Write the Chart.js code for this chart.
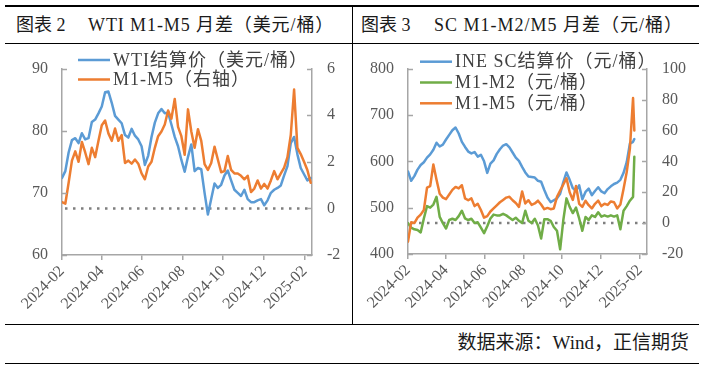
<!DOCTYPE html>
<html>
<head>
<meta charset="utf-8">
<script src="https://cdn.jsdelivr.net/npm/chart.js@4.4.1/dist/chart.umd.min.js"></script>
<style>
  body { margin: 0; width: 704px; height: 369px; background: #fff; position: relative; overflow: hidden;
         font-family: "Liberation Serif", "Noto Sans CJK SC", serif; color: #1a1a1a; }
  .hl { position: absolute; left: 5px; width: 694px; height: 1px; background: #000; }
  .vl { position: absolute; left: 352px; top: 5px; width: 1px; height: 319px; background: #000; }
  .t { position: absolute; font-size: 18px; line-height: 18px; white-space: nowrap; }
  canvas { position: absolute; top: 44px; }
</style>
</head>
<body>
<div class="hl" style="top:5px;height:2px"></div>
<div class="hl" style="top:43px"></div>
<div class="hl" style="top:324px"></div>
<div class="hl" style="top:363px"></div>
<div class="vl"></div>

<div class="t" style="left:16px;top:16px">图表 2</div>
<div class="t" style="left:88px;top:16px;letter-spacing:0.9px">WTI M1-M5 月差（美元/桶）</div>
<div class="t" style="left:361px;top:16px">图表 3</div>
<div class="t" style="left:434px;top:16px;letter-spacing:1px">SC M1-M2/M5 月差（元/桶）</div>
<div class="t" style="right:15px;top:334px;font-size:19px">数据来源：Wind，正信期货</div>

<canvas id="wti" width="352" height="279" style="left:0"></canvas>
<canvas id="sc" width="351" height="279" style="left:353px"></canvas>

<script>
// x axis tick labels (every two months)
const tickMonths = ['2024-02', '2024-04', '2024-06', '2024-08', '2024-10', '2024-12', '2025-02'];

// WTI chart
const wtiDates = ['2024-02-01','2024-02-06','2024-02-11','2024-02-16','2024-02-21','2024-02-26',
  '2024-03-02','2024-03-07','2024-03-12','2024-03-17','2024-03-22','2024-03-27',
  '2024-04-01','2024-04-06','2024-04-11','2024-04-16','2024-04-21','2024-04-26',
  '2024-05-01','2024-05-06','2024-05-11','2024-05-16','2024-05-21','2024-05-26','2024-05-31',
  '2024-06-05','2024-06-10','2024-06-15','2024-06-20','2024-06-25','2024-06-30',
  '2024-07-05','2024-07-10','2024-07-15','2024-07-20','2024-07-25','2024-07-30',
  '2024-08-04','2024-08-09','2024-08-14','2024-08-19','2024-08-24','2024-08-29',
  '2024-09-03','2024-09-08','2024-09-13','2024-09-18','2024-09-23','2024-09-28',
  '2024-10-03','2024-10-08','2024-10-13','2024-10-18','2024-10-23','2024-10-28',
  '2024-11-02','2024-11-07','2024-11-12','2024-11-17','2024-11-22','2024-11-27',
  '2024-12-02','2024-12-07','2024-12-12','2024-12-17','2024-12-22','2024-12-27',
  '2025-01-01','2025-01-06','2025-01-11','2025-01-16','2025-01-21','2025-01-26','2025-01-31',
  '2025-02-05','2025-02-10'];
const wtiPrice = [72.4, 73.5, 76.5, 78.5, 78.8, 78.0, 79.6, 78.6, 78.8, 81.4,
  81.8, 82.8, 83.9, 86.2, 86.3, 84.5, 82.4, 81.8, 81.2, 79.3,
  78.9, 80.3, 79.2, 78.6, 77.5, 74.5, 76.0, 79.0, 81.3, 82.8,
  83.5, 82.8, 82.9, 81.0, 79.0, 77.5, 75.3, 73.4, 75.8, 77.8,
  73.5, 74.0, 73.8, 70.0, 66.5, 69.0, 71.5, 70.8, 71.3, 72.8,
  73.6, 72.0, 70.5, 70.0, 69.5, 70.5, 69.0, 68.5, 68.5, 68.8,
  69.0, 68.0, 68.8, 70.0, 70.5, 70.8, 71.2, 72.8, 74.3, 78.0,
  79.0, 76.2, 74.0, 73.0, 72.0, 72.4];
const wtiM1M5 = [0.27, 0.2, 1.1, 2.05, 2.45, 2.0, 2.85, 2.4, 1.9, 2.6,
  2.2, 2.9, 3.57, 3.77, 3.22, 2.9, 3.43, 2.9, 3.15, 1.95,
  2.05, 1.92, 2.1, 1.92, 1.5, 1.25, 1.8, 2.0, 2.6, 3.1,
  3.3, 3.6, 4.2, 3.85, 4.7, 3.5, 3.1, 2.3, 4.25, 3.3,
  2.6, 3.4, 2.9, 1.9, 1.65, 1.95, 2.65, 2.1, 1.55, 1.6,
  2.25, 1.65, 1.5, 1.5, 1.4, 1.25, 1.4, 0.7, 0.85, 1.2,
  0.85, 1.05, 0.85, 1.2, 1.6, 1.25, 1.5, 1.75, 2.2, 3.15,
  5.1, 2.6, 2.33, 2.0, 1.65, 1.1];

// SC chart
const scDates = ['2024-02-01','2024-02-06','2024-02-11','2024-02-16','2024-02-21','2024-02-26',
  '2024-03-02','2024-03-07','2024-03-12','2024-03-17','2024-03-22','2024-03-27',
  '2024-04-01','2024-04-06','2024-04-11','2024-04-16','2024-04-21','2024-04-26',
  '2024-05-01','2024-05-06','2024-05-11','2024-05-16','2024-05-21','2024-05-26','2024-05-31',
  '2024-06-05','2024-06-10','2024-06-15','2024-06-20','2024-06-25','2024-06-30',
  '2024-07-05','2024-07-10','2024-07-15','2024-07-20','2024-07-25','2024-07-30',
  '2024-08-04','2024-08-09','2024-08-14','2024-08-19','2024-08-24','2024-08-29',
  '2024-09-03','2024-09-08','2024-09-13','2024-09-18','2024-09-23','2024-09-28',
  '2024-10-03','2024-10-08','2024-10-13','2024-10-18','2024-10-23','2024-10-28',
  '2024-11-02','2024-11-07','2024-11-12','2024-11-17','2024-11-22','2024-11-27',
  '2024-12-02','2024-12-07','2024-12-12','2024-12-17','2024-12-22','2024-12-27',
  '2025-01-01','2025-01-06','2025-01-11','2025-01-16','2025-01-21','2025-01-23'];
const scPrice = [578, 558, 568, 582, 592, 598, 608, 615, 625, 640,
  632, 636, 647, 657, 667, 673, 660, 642, 631, 621,
  617, 620, 610, 614, 600, 575, 595, 602, 616, 626,
  634, 637, 630, 619, 608, 601, 588, 576, 567, 566,
  565, 558, 556, 538, 522, 512, 516, 520, 530, 555,
  576, 560, 542, 536, 548, 518, 534, 541, 527, 536,
  544, 535, 531, 540, 546, 551, 554, 560, 575, 598,
  638, 642, 648];
const scM1M2 = [0, -3, -4, -4.5, -6, 3, 11, 10, 12, 17,
  4, 0, -3.5, 2, 2.8, 2, 4.5, 8, 3, 2,
  2.8, 0, 0.5, -3, -6.5, -2, 3, 5.5, 5, 5,
  6, 5, 3.5, 2, 3.5, 1.5, 0, 8, 1.5, 0,
  2.8, -1.5, -10, 2.5, 2.5, 1.5, -2.5, -5, -17, 2,
  16, 10.5, 6.5, 10, 3, -5, 4, 2, 5, 4,
  7, 4.2, 5, 4.2, 5, 4.2, 5, -4, 8, 11,
  14.5, 17, 43];
const scM1M5 = [-12, 0.5, 0, 3.5, 5.5, 8.5, 23, 24, 38, 28,
  19, 16.5, 15.5, 18.5, 21.5, 23.4, 22.4, 24.5, 16, 14.8,
  16, 11, 12.5, 8.5, 3.5, 4.5, 7.5, 9.5, 11.5, 13.5,
  15, 16.5, 17, 14.8, 13, 10.5, 20.5, 12.7, 14.8, 11.8,
  12.7, 14.5, 12, 9, 9.8, 9, 9.5, 17, 21, 25,
  29, 20, 15, 24, 12.5, 10.5, 14.5, 11.6, 9.5, 12.5,
  14.5, 11, 12.5, 11.8, 14, 13.5, 9.5, 12, 22, 33,
  48, 81, 60];

const AXIS = '#a6a6a6';
const TXT = '#595959';
const tickFont = { family: '"Liberation Serif", serif', size: 16 };

function dayOf(s) {
  const p = s.split('-').map(Number);
  return (Date.UTC(p[0], p[1] - 1, p[2] || 1) - Date.UTC(2024, 1, 1)) / 864e5;
}
const pts = (dates, vals) => dates.map((d, i) => ({ x: dayOf(d), y: vals[i] }));

// short tick marks pointing into the plot, like Excel
const innerTicks = {
  id: 'innerTicks',
  afterDraw(chart) {
    const ctx = chart.ctx, a = chart.chartArea;
    ctx.save();
    ctx.strokeStyle = AXIS;
    ctx.lineWidth = 1.5;
    ['y', 'y1'].forEach(id => {
      const s = chart.scales[id];
      const x0 = id === 'y' ? a.left : a.right;
      const dir = id === 'y' ? 1 : -1;
      s.ticks.forEach(t => {
        const py = Math.round(s.getPixelForValue(t.value)) + 0.5;
        ctx.beginPath();
        ctx.moveTo(x0, py);
        ctx.lineTo(x0 + dir * 5, py);
        ctx.stroke();
      });
    });
    ctx.restore();
  }
};

// dotted zero line of the right axis
const zeroLine = {
  id: 'zeroLine',
  beforeDatasetsDraw(chart) {
    const a = chart.chartArea, ctx = chart.ctx;
    const py = chart.scales.y1.getPixelForValue(0);
    ctx.save();
    ctx.strokeStyle = '#7f7f7f';
    ctx.lineWidth = 2.5;
    ctx.setLineDash([2.5, 5.5]);
    ctx.beginPath();
    ctx.moveTo(a.left + 3, py);
    ctx.lineTo(a.right, py);
    ctx.stroke();
    ctx.restore();
  }
};

const boxLegend = {
  id: 'boxLegend',
  afterDraw(chart, args, o) {
    const ctx = chart.ctx;
    ctx.save();
    ctx.font = '18px "Liberation Serif", "Noto Sans CJK SC"';
    ctx.letterSpacing = '1px';
    ctx.textBaseline = 'middle';
    o.order.forEach((di, row) => {
      const ds = chart.data.datasets[di];
      const y = o.y + row * o.rowH;
      ctx.strokeStyle = ds.borderColor;
      ctx.lineWidth = 2.5;
      ctx.beginPath();
      ctx.moveTo(o.x, y);
      ctx.lineTo(o.x + 32, y);
      ctx.stroke();
      ctx.fillStyle = '#404040';
      ctx.fillText(ds.label, o.x + 35, y + 1);
    });
    ctx.restore();
  }
};

function xScale(h) {
  return {
    type: 'linear',
    min: dayOf('2024-02-01'),
    max: dayOf('2025-02-12'),
    afterBuildTicks: s => { s.ticks = tickMonths.map(m => ({ value: dayOf(m) })); },
    afterFit: s => { s.height = h; },
    grid: { drawOnChartArea: false, drawTicks: true, tickLength: 5, color: AXIS, lineWidth: 1.5 },
    border: { color: AXIS, width: 1.5 },
    ticks: {
      autoSkip: false, minRotation: 45, maxRotation: 45, padding: 2,
      color: TXT, font: tickFont,
      callback: (v, i) => tickMonths[i]
    }
  };
}

function yScale(pos, min, max, step, w, pad) {
  return {
    type: 'linear',
    position: pos,
    min: min,
    max: max,
    afterFit: s => { s.width = w; },
    grid: { drawOnChartArea: false, drawTicks: false },
    border: { color: AXIS, width: 1.5 },
    ticks: { stepSize: step, padding: pad, color: TXT, font: tickFont }
  };
}

function line(label, data, color, axis, order) {
  return {
    label: label, data: data, yAxisID: axis, order: order,
    borderColor: color, borderWidth: 2.5, pointRadius: 0, fill: false,
    borderJoinStyle: 'round', borderCapStyle: 'round'
  };
}

new Chart(document.getElementById('wti'), {
  type: 'line',
  data: {
    datasets: [
      line('WTI结算价（美元/桶）', pts(wtiDates, wtiPrice), '#5b9bd5', 'y', 2),
      line('M1-M5（右轴）', pts(wtiDates, wtiM1M5), '#ed7d31', 'y1', 1)
    ]
  },
  options: {
    responsive: false,
    animation: false,
    events: [],
    layout: { padding: { top: 17, left: 0, right: 0, bottom: 0 } },
    scales: {
      x: xScale(68),
      y: yScale('left', 60, 90, 10, 62, 14),
      y1: yScale('right', -2, 6, 2, 40, 15)
    },
    plugins: {
      legend: { display: false },
      tooltip: { enabled: false },
      boxLegend: { x: 78, y: 16, rowH: 19.5, order: [0, 1] }
    }
  },
  plugins: [zeroLine, innerTicks, boxLegend]
});

new Chart(document.getElementById('sc'), {
  type: 'line',
  data: {
    datasets: [
      line('INE SC结算价（元/桶）', pts(scDates, scPrice), '#5b9bd5', 'y', 3),
      line('M1-M2（元/桶）', pts(scDates, scM1M2), '#70ad47', 'y1', 2),
      line('M1-M5（元/桶）', pts(scDates, scM1M5), '#ed7d31', 'y1', 1)
    ]
  },
  options: {
    responsive: false,
    animation: false,
    events: [],
    layout: { padding: { top: 24, left: 0, right: 0, bottom: 0 } },
    scales: {
      x: xScale(69),
      y: yScale('left', 400, 800, 100, 55, 14),
      y1: yScale('right', -20, 100, 20, 57, 15)
    },
    plugins: {
      legend: { display: false },
      tooltip: { enabled: false },
      boxLegend: { x: 67, y: 17.7, rowH: 20.8, order: [0, 1, 2] }
    }
  },
  plugins: [zeroLine, innerTicks, boxLegend]
});
</script>
</body>
</html>
